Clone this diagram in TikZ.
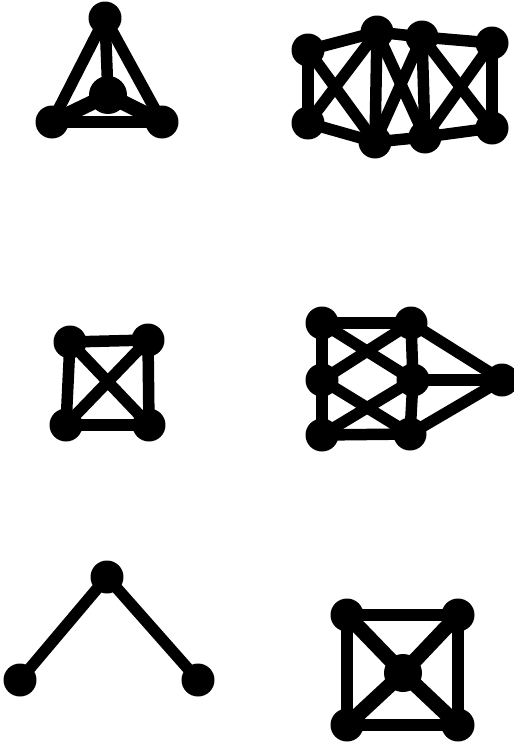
\documentclass[tikz,border=0pt]{standalone}
\begin{document}
\begin{tikzpicture}[x=0.02cm,y=-0.02cm,
    edge/.style={line width=0.23cm},
    hub/.style={line width=0.3cm},
    vtx/.style={circle,fill=black,minimum size=0.66cm,inner sep=0pt},
    bigvtx/.style={vtx,minimum size=0.76cm}]
  \useasboundingbox (0,0) rectangle (514,751);
  % top left
  \coordinate (a1) at (105,18);
  \coordinate (a2) at (108,95);
  \coordinate (a3) at (52,122);
  \coordinate (a4) at (162,122);
  \foreach \u/\v in {a1/a3,a1/a4,a1/a2,a3/a4}
    \draw[edge] (\u) -- (\v);
  \foreach \u/\v in {a2/a3,a2/a4}
    \draw[hub] (\u) -- (\v);
  % top right
  \coordinate (b1) at (308,50);
  \coordinate (b2) at (377,32);
  \coordinate (b3) at (422,37);
  \coordinate (b4) at (492,43);
  \coordinate (b5) at (308,123);
  \coordinate (b6) at (375,142);
  \coordinate (b7) at (425,137);
  \coordinate (b8) at (492,128);
  \foreach \u/\v in {b1/b2,b2/b3,b3/b4,b5/b6,b6/b7,b7/b8,b1/b5,b2/b6,b3/b7,b4/b8,
      b1/b6,b5/b2,b2/b7,b3/b6,b3/b8,b4/b7}
    \draw[edge] (\u) -- (\v);
  % middle left
  \coordinate (c1) at (70,342);
  \coordinate (c2) at (148,340);
  \coordinate (c3) at (66,425);
  \coordinate (c4) at (149,425);
  \foreach \u/\v in {c1/c2,c3/c4,c1/c3,c2/c4,c1/c4,c2/c3}
    \draw[edge] (\u) -- (\v);
  % middle right
  \coordinate (d1) at (322,323);
  \coordinate (d2) at (411,323);
  \coordinate (d3) at (322,380);
  \coordinate (d4) at (413,380);
  \coordinate (d5) at (322,435);
  \coordinate (d6) at (410,434);
  \coordinate (d7) at (502,380);
  \foreach \u/\v in {d1/d2,d5/d6,d1/d3,d3/d5,d2/d4,d4/d6,d1/d4,d3/d2,d3/d6,d5/d4,
      d2/d7,d4/d7,d6/d7}
    \draw[edge] (\u) -- (\v);
  % bottom left
  \coordinate (e1) at (107,577);
  \coordinate (e2) at (20,680);
  \coordinate (e3) at (198,680);
  \foreach \u/\v in {e1/e2,e1/e3}
    \draw[edge] (\u) -- (\v);
  % bottom right
  \coordinate (f1) at (347,615);
  \coordinate (f2) at (458,615);
  \coordinate (f3) at (347,725);
  \coordinate (f4) at (458,725);
  \coordinate (f5) at (403,673);
  \foreach \u/\v in {f1/f2,f3/f4,f1/f3,f2/f4}
    \draw[edge] (\u) -- (\v);
  \foreach \v in {f1,f2,f3,f4}
    \draw[hub] (f5) -- (\v);
  \foreach \v in {a1,a3,a4,b1,b2,b3,b4,b5,b6,b7,b8,c1,c2,c3,c4,
      d1,d2,d3,d4,d5,d6,d7,e1,e2,e3,f1,f2,f3,f4}
    \node[vtx] (n\v) at (\v) {};
  \node[bigvtx] (na2) at (a2) {};
  \node[bigvtx] (nf5) at (f5) {};
\end{tikzpicture}
\end{document}
